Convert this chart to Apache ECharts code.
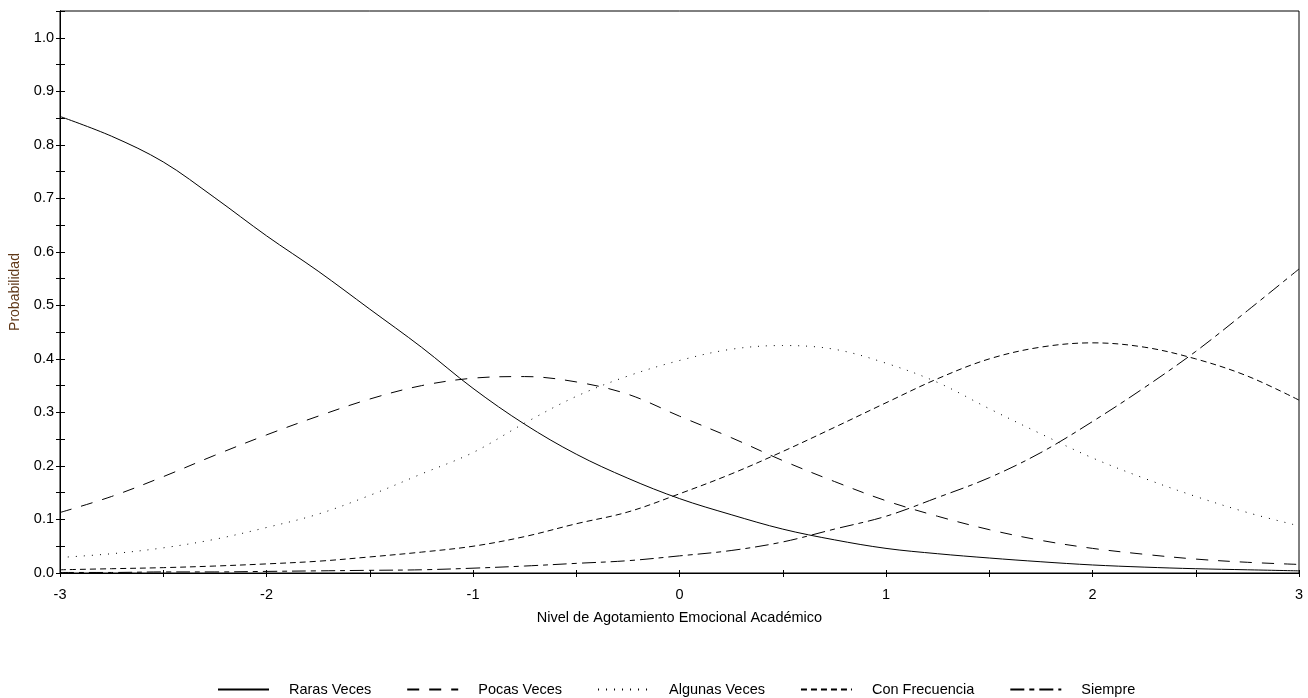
<!DOCTYPE html>
<html>
<head>
<meta charset="utf-8">
<script src="https://cdn.jsdelivr.net/npm/echarts@6/dist/echarts.min.js"></script>
<style>
html,body{margin:0;padding:0;background:#fff;}
#chart{width:1308px;height:698px;}
</style>
</head>
<body>
<div id="chart"></div>
<script>
// Data
const theta = [-3,-2.75,-2.5,-2.25,-2,-1.75,-1.5,-1.25,-1,-0.75,-0.5,-0.25,0,0.25,0.5,0.75,1,1.25,1.5,1.75,2,2.25,2.5,2.75,3];
const rarasVeces = [0.853,0.816,0.768,0.701,0.630,0.564,0.493,0.422,0.345,0.278,0.222,0.177,0.139,0.109,0.082,0.062,0.046,0.036,0.028,0.021,0.015,0.011,0.008,0.006,0.004];
const pocasVeces = [0.113,0.143,0.180,0.220,0.258,0.293,0.325,0.350,0.364,0.367,0.357,0.334,0.293,0.253,0.210,0.171,0.135,0.106,0.081,0.061,0.046,0.035,0.026,0.020,0.016];
const algunasVeces = [0.029,0.036,0.047,0.063,0.085,0.110,0.145,0.185,0.225,0.280,0.330,0.368,0.397,0.418,0.425,0.418,0.392,0.356,0.307,0.260,0.215,0.177,0.143,0.113,0.088];
const conFrecuencia = [0.006,0.008,0.010,0.013,0.017,0.022,0.030,0.039,0.050,0.068,0.092,0.114,0.148,0.185,0.227,0.272,0.318,0.363,0.400,0.422,0.430,0.422,0.400,0.368,0.323];
const siempre = [0.001,0.001,0.002,0.002,0.003,0.004,0.005,0.006,0.009,0.013,0.018,0.023,0.032,0.042,0.058,0.082,0.106,0.141,0.178,0.225,0.283,0.346,0.414,0.490,0.568];
const seriesNames = ['Raras Veces','Pocas Veces','Algunas Veces','Con Frecuencia','Siempre'];
const xTitle = 'Nivel de Agotamiento Emocional Académico';
const yTitle = 'Probabilidad';

const FONT = '"Liberation Sans", Arial, sans-serif';
const FS = 14.5;

const allVals = [rarasVeces, pocasVeces, algunasVeces, conFrecuencia, siempre];
const dashes = ['solid', [12,10], [1,7], [6,4], [14,5,5,5]];

const chart = echarts.init(document.getElementById('chart'), null, {renderer:'canvas'});

const series = allVals.map((vals, i) => ({
  name: seriesNames[i],
  type: 'line',
  xAxisIndex: 0,
  yAxisIndex: 0,
  data: theta.map((t, k) => [t, vals[k]]),
  smooth: 0.35,
  symbol: 'none',
  showSymbol: false,
  lineStyle: {color:'#000', width:1, type: dashes[i]},
  itemStyle: {color:'#000'},
  emphasis: {disabled:true},
  animation: false
}));

const yLabel = v => { const k = Math.round(v*100); return (k % 10 === 0 && k <= 100) ? (k/100).toFixed(1) : ''; };
const xLabel = v => { const k = Math.round(v*2); return (k % 2 === 0) ? String(k/2) : ''; };

const baseY = {
  type:'value', min:0, max:1.05, interval:0.05,
  splitLine:{show:false},
  axisLine:{show:true, onZero:false, lineStyle:{color:'#000', width:1}}
};
const baseX = {
  type:'value', min:-3, max:3, interval:0.5,
  splitLine:{show:false},
  axisLine:{show:true, onZero:false, lineStyle:{color:'#000', width:1}}
};

chart.setOption({
  animation:false,
  backgroundColor:'#fff',
  textStyle:{fontFamily:FONT},
  grid:{left:57, right:9, top:11, bottom:125, show:true, borderColor:'#000', borderWidth:1, containLabel:false},
  legend:{
    data: seriesNames,
    top: 677,
    left: 212,
    itemWidth: 51,
    itemHeight: 12,
    itemGap: 35,
    itemStyle:{opacity:0, borderWidth:0},
    textStyle:{fontFamily:FONT, fontSize:FS, color:'#000', padding:[0,0,0,15]},
    selectedMode:false
  },
  xAxis:[
    Object.assign({}, baseX, {
      position:'bottom',
      name: xTitle, nameLocation:'middle', nameGap:37,
      nameTextStyle:{fontFamily:FONT, fontSize:FS, color:'#000'},
      axisTick:{show:true, inside:false, length:4, lineStyle:{color:'#000'}},
      axisLabel:{formatter:xLabel, margin:14, color:'#000', fontFamily:FONT, fontSize:FS, showMinLabel:true, showMaxLabel:true}
    }),
    Object.assign({}, baseX, {
      position:'bottom',
      axisTick:{show:true, inside:true, length:3, lineStyle:{color:'#000'}},
      axisLabel:{show:false}
    })
  ],
  yAxis:[
    Object.assign({}, baseY, {
      position:'left',
      name: yTitle, nameLocation:'middle', nameGap:38, nameRotate:90,
      nameTextStyle:{fontFamily:FONT, fontSize:14, color:'#603818'},
      axisTick:{show:true, inside:false, length:4, lineStyle:{color:'#000'}},
      axisLabel:{formatter:yLabel, margin:6, color:'#000', fontFamily:FONT, fontSize:FS}
    }),
    Object.assign({}, baseY, {
      position:'left',
      axisTick:{show:true, inside:true, length:5, lineStyle:{color:'#000'}},
      axisLabel:{show:false}
    })
  ],
  series: series
});
</script>
</body>
</html>
